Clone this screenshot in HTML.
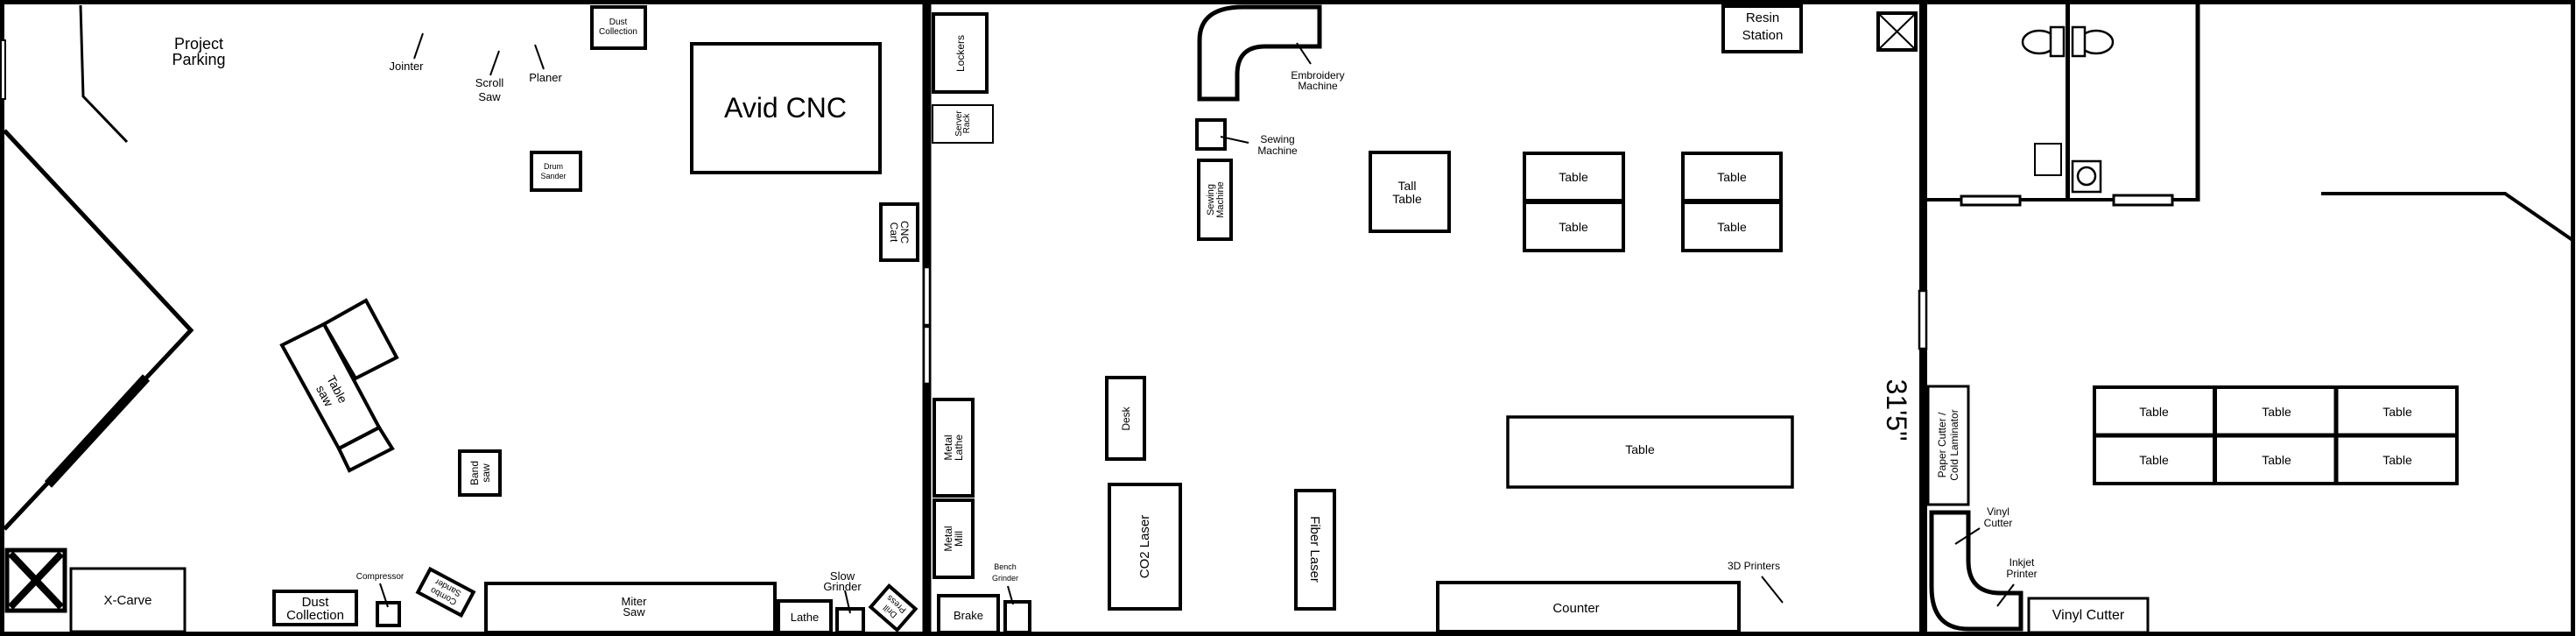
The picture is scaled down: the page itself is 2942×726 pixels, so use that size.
<!DOCTYPE html>
<html><head><meta charset="utf-8"><style>
html,body{margin:0;padding:0;background:#fff;}
svg{display:block;}
text{font-family:"Liberation Sans",sans-serif;fill:#000;text-anchor:middle;}
</style></head><body>
<svg width="2942" height="726" viewBox="0 0 2942 726" xmlns="http://www.w3.org/2000/svg">
<g fill="none" stroke="#000" stroke-width="4">
<!-- outer border -->
<rect x="2.5" y="2.5" width="2936" height="721" stroke-width="5"/>
<!-- left door -->
<rect x="1" y="46" width="5" height="67" fill="#fff" stroke-width="2"/>
<!-- parking line -->
<polyline points="92,6 95,110 145,162" stroke-width="3"/>
<!-- big diagonal -->
<polyline points="5,149 218,377 5,604" stroke-width="5"/>
<line x1="167" y1="431" x2="55" y2="553" stroke-width="11"/>
<!-- label lines -->
<line x1="483" y1="38" x2="473" y2="67" stroke-width="2"/>
<line x1="570" y1="58" x2="560" y2="86" stroke-width="2"/>
<line x1="611" y1="51" x2="621" y2="79" stroke-width="2"/>
<!-- boxes left room -->
<rect x="676" y="8" width="61" height="47"/>
<rect x="790" y="50" width="215" height="147"/>
<rect x="607" y="174" width="56" height="43"/>
<rect x="1006" y="233" width="42" height="64"/>
<polygon points="322,394 370,370 433,488 387,512"/>
<polygon points="370,370 418,343 453,408 406,432"/>
<polygon points="387,512 433,488 448,512 399,537"/>
<rect x="525" y="515" width="46" height="50"/>
<rect x="8" y="628" width="66" height="69" stroke-width="5"/>
<line x1="12" y1="632" x2="70" y2="693" stroke-width="8"/>
<line x1="70" y1="632" x2="12" y2="693" stroke-width="8"/>
<rect x="81" y="649" width="130" height="72" stroke-width="3"/>
<rect x="313" y="675" width="94" height="38"/>
<line x1="434" y1="666" x2="443" y2="693" stroke-width="2"/>
<rect x="431" y="688" width="25" height="26"/>
<rect x="-28" y="-15" width="56" height="30" transform="translate(509,676) rotate(28)"/>
<rect x="555" y="666" width="330" height="56"/>
<rect x="889" y="686" width="60" height="36"/>
<line x1="965" y1="674" x2="971" y2="700" stroke-width="2"/>
<rect x="956" y="695" width="30" height="27"/>
<rect x="-20" y="-16" width="40" height="32" transform="translate(1020,694) rotate(41)"/>
<!-- middle wall -->
<line x1="1058.5" y1="3" x2="1058.5" y2="724" stroke-width="10"/>
<rect x="1055" y="305" width="7" height="66" fill="#fff" stroke-width="2.5"/>
<rect x="1055" y="373" width="7" height="65" fill="#fff" stroke-width="2.5"/>
<!-- middle room -->
<rect x="1066" y="16" width="61" height="89"/>
<rect x="1065" y="120" width="69" height="43" stroke-width="2"/>
<path d="M1370,113 L1370,46 Q1370,8 1420,8 L1507,8 L1507,53 L1445,53 Q1413,53 1413,85 L1413,113 Z" stroke-width="5"/>
<line x1="1481" y1="49" x2="1497" y2="73" stroke-width="2"/>
<rect x="1367" y="137" width="32" height="33"/>
<line x1="1394" y1="156" x2="1426" y2="163" stroke-width="2"/>
<rect x="1369" y="183" width="37" height="90"/>
<rect x="1565" y="174" width="90" height="90"/>
<rect x="1741" y="175" width="113" height="54"/>
<rect x="1741" y="231" width="113" height="55"/>
<rect x="1922" y="175" width="112" height="54"/>
<rect x="1922" y="231" width="112" height="55"/>
<rect x="1968" y="7" width="89" height="52"/>
<rect x="2145" y="15" width="43" height="42" stroke-width="4"/>
<line x1="2147" y1="17" x2="2186" y2="55" stroke-width="2"/>
<line x1="2186" y1="17" x2="2147" y2="55" stroke-width="2"/>
<rect x="1264" y="431" width="43" height="93"/>
<rect x="1722" y="476" width="325" height="80" stroke-width="3.5"/>
<rect x="1067" y="456" width="44" height="110"/>
<rect x="1067" y="571" width="44" height="88"/>
<rect x="1267" y="553" width="81" height="142"/>
<rect x="1480" y="560" width="44" height="135"/>
<rect x="1642" y="665" width="344" height="56"/>
<line x1="2012" y1="658" x2="2036" y2="688" stroke-width="2"/>
<line x1="1151" y1="669" x2="1157" y2="690" stroke-width="2"/>
<rect x="1148" y="687" width="28" height="35"/>
<rect x="1072" y="680" width="68" height="42"/>
<!-- right wall -->
<line x1="2196.5" y1="3" x2="2196.5" y2="724" stroke-width="9"/>
<rect x="2192" y="332" width="8" height="66" fill="#fff" stroke-width="2.5"/>
<!-- bathrooms -->
<line x1="2200" y1="228" x2="2511" y2="228" stroke-width="4"/>
<line x1="2361.5" y1="3" x2="2361.5" y2="228" stroke-width="5"/>
<line x1="2510" y1="3" x2="2510" y2="230" stroke-width="5"/>
<rect x="2240" y="224" width="67" height="10" fill="#fff" stroke-width="3"/>
<rect x="2414" y="223" width="67" height="11" fill="#fff" stroke-width="3"/>
<ellipse cx="2329" cy="48" rx="19" ry="13" stroke-width="2.5"/>
<rect x="2342" y="31" width="15" height="33" fill="#fff" stroke-width="2.5"/>
<ellipse cx="2394" cy="48" rx="19" ry="13" stroke-width="2.5"/>
<rect x="2367" y="31" width="14" height="33" fill="#fff" stroke-width="2.5"/>
<rect x="2324" y="164" width="30" height="36" stroke-width="2"/>
<rect x="2367" y="184" width="32" height="35" stroke-width="2.5"/>
<circle cx="2383" cy="201" r="10" stroke-width="2.5"/>
<polyline points="2651,221 2861,221 2938,274" stroke-width="4"/>
<!-- right room -->
<rect x="2202" y="441" width="46" height="135" stroke-width="3"/>
<path d="M2206,585 L2248,585 L2248,640 Q2248,677 2285,677 L2308,677 L2308,718 L2248,718 Q2206,718 2206,670 Z" stroke-width="5"/>
<line x1="2233" y1="621" x2="2261" y2="603" stroke-width="2"/>
<line x1="2281" y1="692" x2="2300" y2="667" stroke-width="2"/>
<rect x="2317" y="683" width="136" height="39" stroke-width="3"/>
<rect x="2392" y="442" width="414" height="110" stroke-width="4"/>
<line x1="2392" y1="497" x2="2806" y2="497" stroke-width="5"/>
<line x1="2529.5" y1="442" x2="2529.5" y2="552" stroke-width="5"/>
<line x1="2668" y1="442" x2="2668" y2="552" stroke-width="5"/>
</g>
<!-- texts -->
<text x="227" y="56" font-size="18">Project</text>
<text x="227" y="74" font-size="18">Parking</text>
<text x="464" y="80" font-size="13">Jointer</text>
<text x="559" y="99" font-size="13">Scroll</text>
<text x="559" y="115" font-size="13">Saw</text>
<text x="623" y="93" font-size="13">Planer</text>
<text x="706" y="28" font-size="10">Dust</text>
<text x="706" y="39" font-size="10">Collection</text>
<text x="897" y="134" font-size="32">Avid CNC</text>
<text x="632" y="193" font-size="9">Drum</text>
<text x="632" y="204" font-size="9">Sander</text>
<text transform="translate(1027,265) rotate(90)" font-size="12"><tspan x="0" y="-2">CNC</tspan><tspan x="0" y="10">Cart</tspan></text>
<text transform="translate(378,448) rotate(62)" font-size="14"><tspan x="0" y="-3">Table</tspan><tspan x="0" y="13">saw</tspan></text>
<text transform="translate(548,540) rotate(-90)" font-size="12"><tspan x="0" y="-2">Band</tspan><tspan x="0" y="11">saw</tspan></text>
<text x="146" y="690" font-size="15">X-Carve</text>
<text x="360" y="692" font-size="15">Dust</text>
<text x="360" y="707" font-size="15">Collection</text>
<text x="434" y="661" font-size="10">Compressor</text>
<text transform="translate(509,676) rotate(208)" font-size="10"><tspan x="0" y="-2">Combo</tspan><tspan x="0" y="9">Sander</tspan></text>
<text x="724" y="691" font-size="13">Miter</text>
<text x="724" y="703" font-size="13">Saw</text>
<text x="919" y="709" font-size="13">Lathe</text>
<text x="962" y="662" font-size="13">Slow</text>
<text x="962" y="674" font-size="13">Grinder</text>
<text transform="translate(1020,694) rotate(221)" font-size="10"><tspan x="0" y="-2">Drill</tspan><tspan x="0" y="9">Press</tspan></text>
<text transform="translate(1097,61) rotate(-90)" font-size="12" y="4">Lockers</text>
<text transform="translate(1099,141) rotate(-90)" font-size="10"><tspan x="0" y="-1">Server</tspan><tspan x="0" y="8">Rack</tspan></text>
<text x="1505" y="90" font-size="12">Embroidery</text>
<text x="1505" y="102" font-size="12">Machine</text>
<text x="1459" y="163" font-size="12">Sewing</text>
<text x="1459" y="176" font-size="12">Machine</text>
<text transform="translate(1388,228) rotate(-90)" font-size="11"><tspan x="0" y="-2">Sewing</tspan><tspan x="0" y="9">Machine</tspan></text>
<text x="1607" y="217" font-size="14">Tall</text>
<text x="1607" y="232" font-size="14">Table</text>
<text x="1797" y="207" font-size="14">Table</text>
<text x="1797" y="264" font-size="14">Table</text>
<text x="1978" y="207" font-size="14">Table</text>
<text x="1978" y="264" font-size="14">Table</text>
<text x="2013" y="25" font-size="15">Resin</text>
<text x="2013" y="45" font-size="15">Station</text>
<text transform="translate(2166,468) rotate(90)" font-size="32" y="11">31'5"</text>
<text transform="translate(1286,478) rotate(-90)" font-size="12" y="4">Desk</text>
<text x="1873" y="518" font-size="14">Table</text>
<text transform="translate(1089,511) rotate(-90)" font-size="12"><tspan x="0" y="-2">Metal</tspan><tspan x="0" y="10">Lathe</tspan></text>
<text transform="translate(1089,615) rotate(-90)" font-size="12"><tspan x="0" y="-2">Metal</tspan><tspan x="0" y="10">Mill</tspan></text>
<text transform="translate(1307,624) rotate(-90)" font-size="15" y="5">CO2 Laser</text>
<text transform="translate(1502,627) rotate(90)" font-size="15" y="5">Fiber Laser</text>
<text x="1800" y="699" font-size="15">Counter</text>
<text x="2003" y="650" font-size="12">3D Printers</text>
<text x="1148" y="650" font-size="9">Bench</text>
<text x="1148" y="663" font-size="9">Grinder</text>
<text x="1106" y="707" font-size="13">Brake</text>
<text transform="translate(2225,508) rotate(-90)" font-size="12"><tspan x="0" y="-3">Paper Cutter /</tspan><tspan x="0" y="11">Cold Laminator</tspan></text>
<text x="2282" y="588" font-size="12">Vinyl</text>
<text x="2282" y="601" font-size="12">Cutter</text>
<text x="2309" y="646" font-size="12">Inkjet</text>
<text x="2309" y="659" font-size="12">Printer</text>
<text x="2385" y="707" font-size="16">Vinyl Cutter</text>
<text x="2460" y="475" font-size="14">Table</text>
<text x="2600" y="475" font-size="14">Table</text>
<text x="2738" y="475" font-size="14">Table</text>
<text x="2460" y="530" font-size="14">Table</text>
<text x="2600" y="530" font-size="14">Table</text>
<text x="2738" y="530" font-size="14">Table</text>
</svg>
</body></html>
